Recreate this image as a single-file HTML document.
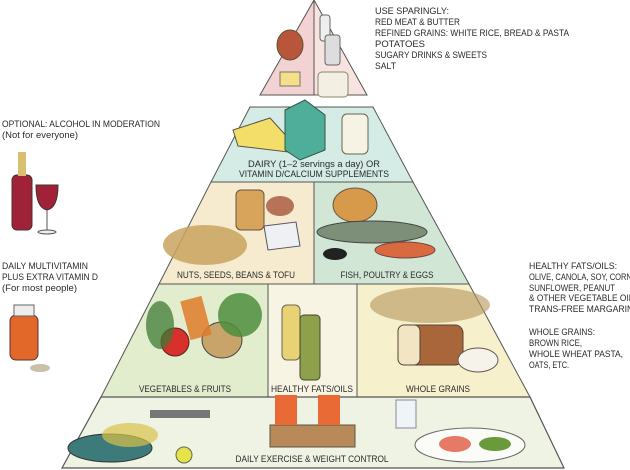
<!DOCTYPE html>
<html><head><meta charset="utf-8"><style>
html,body{margin:0;padding:0;background:#fff;}
svg{display:block;}
text{font-family:"Liberation Sans",sans-serif;font-size:9px;fill:#2a2a2a;}
</style></head><body>
<svg width="630" height="470" viewBox="0 0 630 470" xmlns="http://www.w3.org/2000/svg">
<polygon points="314,0 260,95 314,95" fill="#f2d2d2" stroke="#555" stroke-width="1"/>
<polygon points="314,0 367,95 314,95" fill="#f7e3e0" stroke="#555" stroke-width="1"/>
<polygon points="250,107 373,107 413,182 211,182" fill="#d5ebe5" stroke="#555" stroke-width="1"/>
<polygon points="211,182 314,182 314,284 159,284" fill="#f6ebcf" stroke="#555" stroke-width="1"/>
<polygon points="314,182 413,182 469,284 314,284" fill="#d2e6d6" stroke="#555" stroke-width="1"/>
<polygon points="159,284 268,284 268,397 101,397" fill="#e1edcc" stroke="#555" stroke-width="1"/>
<polygon points="268,284 357,284 357,397 268,397" fill="#f8f4e4" stroke="#555" stroke-width="1"/>
<polygon points="357,284 469,284 530,397 357,397" fill="#f6f0cc" stroke="#555" stroke-width="1"/>
<polygon points="101,397 530,397 564,468 62,468" fill="#eef3e3" stroke="#555" stroke-width="1.2"/>

<ellipse cx="290" cy="45" rx="13" ry="15" fill="#b8553a" stroke="#553" />
<rect x="320" y="15" width="10" height="26" rx="3" fill="#eee" stroke="#666"/>
<rect x="325" y="35" width="15" height="30" rx="3" fill="#ddd" stroke="#666"/>
<rect x="280" y="72" width="20" height="14" fill="#f5df8a" stroke="#776"/>
<rect x="318" y="72" width="30" height="25" rx="4" fill="#f4efe3" stroke="#886"/>
<polygon points="233,130 270,118 290,140 288,152 238,146" fill="#f3de6a" stroke="#554"/>
<polygon points="285,110 305,100 325,115 325,150 300,160 285,150" fill="#4fae9a" stroke="#354"/>
<rect x="342" y="114" width="26" height="40" rx="5" fill="#f6f2e4" stroke="#665"/>
<ellipse cx="205" cy="245" rx="42" ry="20" fill="#c9a35f" opacity="0.85"/>
<rect x="236" y="190" width="28" height="40" rx="5" fill="#d8a35a" stroke="#654"/>
<polygon points="264,226 296,222 300,246 268,250" fill="#eef0f4" stroke="#556"/>
<ellipse cx="280" cy="206" rx="14" ry="10" fill="#a8553a" opacity="0.8"/>
<ellipse cx="355" cy="205" rx="22" ry="17" fill="#d69a4a" stroke="#654"/>
<ellipse cx="372" cy="232" rx="55" ry="11" fill="#7d8f78" stroke="#444"/>
<ellipse cx="405" cy="250" rx="30" ry="8" fill="#d96a40" stroke="#744"/>
<ellipse cx="335" cy="254" rx="12" ry="6" fill="#222"/>
<circle cx="175" cy="342" r="14" fill="#d8302a" stroke="#522"/>
<ellipse cx="222" cy="340" rx="20" ry="18" fill="#c9a46a" stroke="#444"/>
<ellipse cx="240" cy="315" rx="22" ry="22" fill="#4c8d3c" opacity="0.85"/>
<rect x="185" y="298" width="22" height="40" fill="#e07a2a" opacity="0.85" transform="rotate(-15 196 318)"/>
<ellipse cx="160" cy="325" rx="14" ry="24" fill="#3e7a34" opacity="0.75"/>
<rect x="282" y="305" width="18" height="55" rx="5" fill="#e9d273" stroke="#665"/>
<rect x="300" y="315" width="20" height="65" rx="4" fill="#8ea04a" stroke="#443"/>
<ellipse cx="430" cy="305" rx="60" ry="18" fill="#b8955a" opacity="0.6"/>
<rect x="398" y="325" width="65" height="40" rx="8" fill="#a9663a" stroke="#543"/>
<rect x="398" y="325" width="22" height="40" rx="6" fill="#f1e5c4" stroke="#543"/>
<ellipse cx="478" cy="360" rx="20" ry="12" fill="#f5f3ea" stroke="#655"/>
<ellipse cx="110" cy="448" rx="42" ry="14" fill="#3d7a7a" stroke="#333"/>
<ellipse cx="130" cy="435" rx="28" ry="12" fill="#d8c24a" opacity="0.7"/>
<rect x="150" y="410" width="60" height="8" fill="#777"/>
<circle cx="184" cy="455" r="8" fill="#e5e24a" stroke="#665"/>
<rect x="270" y="425" width="85" height="22" fill="#b88a5a" stroke="#554"/>
<rect x="275" y="395" width="22" height="30" fill="#e96a35"/>
<rect x="318" y="395" width="22" height="30" fill="#e96a35"/>
<rect x="396" y="400" width="20" height="28" fill="#eef4f7" stroke="#889"/>
<ellipse cx="470" cy="445" rx="55" ry="17" fill="#fbfbf8" stroke="#666"/>
<ellipse cx="455" cy="444" rx="16" ry="8" fill="#e57a66"/>
<ellipse cx="495" cy="444" rx="16" ry="7" fill="#6a9a3a"/>
<!-- wine -->
<rect x="12" y="175" width="20" height="55" rx="5" fill="#a02238" stroke="#433"/>
<rect x="18" y="152" width="8" height="24" fill="#d8c070"/>
<path d="M36 185 Q36 208 47 210 Q58 208 58 185 Z" fill="#a02238" stroke="#433"/>
<line x1="47" y1="210" x2="47" y2="230" stroke="#555"/>
<ellipse cx="47" cy="232" rx="9" ry="2" fill="#eee" stroke="#555"/>
<!-- vitamin -->
<rect x="10" y="315" width="28" height="45" rx="6" fill="#e2682a" stroke="#533"/>
<rect x="14" y="305" width="20" height="11" fill="#eee" stroke="#666"/>
<ellipse cx="40" cy="368" rx="10" ry="4" fill="#c8c0a8"/>

<text x="375" y="14" textLength="74" lengthAdjust="spacingAndGlyphs">USE SPARINGLY:</text>
<text x="375" y="25" textLength="85" lengthAdjust="spacingAndGlyphs">RED MEAT &amp; BUTTER</text>
<text x="375" y="36" textLength="194" lengthAdjust="spacingAndGlyphs">REFINED GRAINS: WHITE RICE, BREAD &amp; PASTA</text>
<text x="375" y="47" textLength="50" lengthAdjust="spacingAndGlyphs">POTATOES</text>
<text x="375" y="58" textLength="112" lengthAdjust="spacingAndGlyphs">SUGARY DRINKS &amp; SWEETS</text>
<text x="375" y="69" textLength="21" lengthAdjust="spacingAndGlyphs">SALT</text>
<text x="2" y="127" textLength="158" lengthAdjust="spacingAndGlyphs">OPTIONAL: ALCOHOL IN MODERATION</text>
<text x="2" y="138" textLength="76" lengthAdjust="spacingAndGlyphs">(Not for everyone)</text>
<text x="2" y="269" textLength="86" lengthAdjust="spacingAndGlyphs">DAILY MULTIVITAMIN</text>
<text x="2" y="280" textLength="96" lengthAdjust="spacingAndGlyphs">PLUS EXTRA VITAMIN D</text>
<text x="2" y="291" textLength="75" lengthAdjust="spacingAndGlyphs">(For most people)</text>
<text x="529" y="269" textLength="88" lengthAdjust="spacingAndGlyphs">HEALTHY FATS/OILS:</text>
<text x="529" y="280" textLength="105" lengthAdjust="spacingAndGlyphs">OLIVE, CANOLA, SOY, CORN,</text>
<text x="529" y="291" textLength="86" lengthAdjust="spacingAndGlyphs">SUNFLOWER, PEANUT</text>
<text x="529" y="301" textLength="110" lengthAdjust="spacingAndGlyphs">&amp; OTHER VEGETABLE OILS</text>
<text x="529" y="312" textLength="110" lengthAdjust="spacingAndGlyphs">TRANS-FREE MARGARINE</text>
<text x="529" y="335" textLength="66" lengthAdjust="spacingAndGlyphs">WHOLE GRAINS:</text>
<text x="529" y="346" textLength="53" lengthAdjust="spacingAndGlyphs">BROWN RICE,</text>
<text x="529" y="357" textLength="94" lengthAdjust="spacingAndGlyphs">WHOLE WHEAT PASTA,</text>
<text x="529" y="368" textLength="40" lengthAdjust="spacingAndGlyphs">OATS, ETC.</text>
<text x="314" y="167" text-anchor="middle" textLength="132" lengthAdjust="spacingAndGlyphs">DAIRY (1–2 servings a day) OR</text>
<text x="314" y="177" text-anchor="middle" textLength="150" lengthAdjust="spacingAndGlyphs">VITAMIN D/CALCIUM SUPPLEMENTS</text>
<text x="236" y="278" text-anchor="middle" textLength="118" lengthAdjust="spacingAndGlyphs">NUTS, SEEDS, BEANS &amp; TOFU</text>
<text x="387" y="278" text-anchor="middle" textLength="93" lengthAdjust="spacingAndGlyphs">FISH, POULTRY &amp; EGGS</text>
<text x="185" y="392" text-anchor="middle" textLength="92" lengthAdjust="spacingAndGlyphs">VEGETABLES &amp; FRUITS</text>
<text x="312" y="392" text-anchor="middle" textLength="82" lengthAdjust="spacingAndGlyphs">HEALTHY FATS/OILS</text>
<text x="438" y="392" text-anchor="middle" textLength="64" lengthAdjust="spacingAndGlyphs">WHOLE GRAINS</text>
<text x="312" y="462" text-anchor="middle" textLength="153" lengthAdjust="spacingAndGlyphs">DAILY EXERCISE &amp; WEIGHT CONTROL</text>
</svg>
</body></html>
